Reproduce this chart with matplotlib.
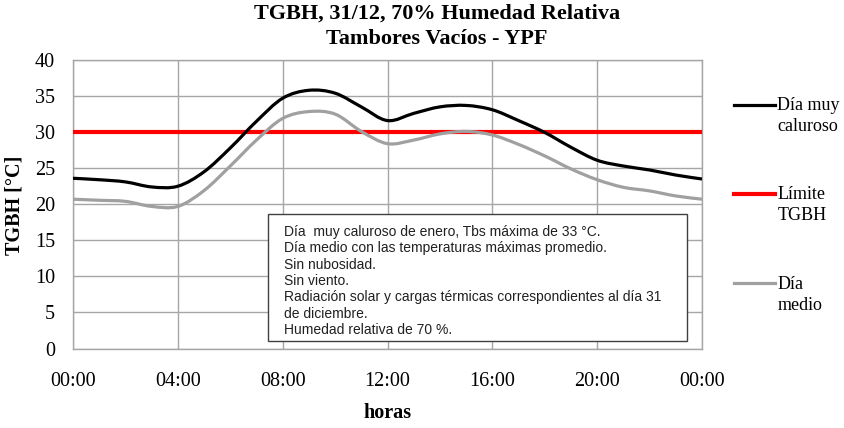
import matplotlib
matplotlib.use("Agg")
import matplotlib.pyplot as plt
from matplotlib.patches import Rectangle, PathPatch
from matplotlib.path import Path
from matplotlib.lines import Line2D
from matplotlib.legend_handler import HandlerLine2D

horas = list(range(25))
tick_horas = [0, 4, 8, 12, 16, 20, 24]
tick_labels = ["00:00", "04:00", "08:00", "12:00", "16:00", "20:00", "00:00"]

dia_muy_caluroso = [23.6, 23.4, 23.1, 22.4, 22.5, 24.5, 27.8, 31.5, 34.7, 35.8,
                    35.4, 33.5, 31.6, 32.6, 33.5, 33.7, 33.1, 31.6, 29.95, 27.9,
                    26.1, 25.3, 24.75, 24.05, 23.5]
dia_medio = [20.7, 20.55, 20.4, 19.7, 19.7, 21.9, 25.3, 28.9, 31.9, 32.85,
             32.5, 30.1, 28.4, 28.9, 29.75, 30.1, 29.6, 28.3, 26.7, 24.9,
             23.4, 22.35, 21.85, 21.15, 20.7]
limite_tgbh = 30

y_ticks = [0, 5, 10, 15, 20, 25, 30, 35, 40]

nota = ("Día  muy caluroso de enero, Tbs máxima de 33 °C.\n"
        "Día medio con las temperaturas máximas promedio.\n"
        "Sin nubosidad.\n"
        "Sin viento.\n"
        "Radiación solar y cargas térmicas correspondientes al día 31\n"
        "de diciembre.\n"
        "Humedad relativa de 70 %.")

serif = "Liberation Serif"
sans = "Liberation Sans"


def smooth_path(xs, ys):
    """Smoothed line through the data points (like a spreadsheet 'smoothed line')."""
    n = len(xs)
    verts = [(xs[0], ys[0])]
    codes = [Path.MOVETO]
    for i in range(n - 1):
        i0 = max(i - 1, 0)
        i3 = min(i + 2, n - 1)
        c1 = (xs[i] + (xs[i + 1] - xs[i0]) / 6.0, ys[i] + (ys[i + 1] - ys[i0]) / 6.0)
        c2 = (xs[i + 1] - (xs[i3] - xs[i]) / 6.0, ys[i + 1] - (ys[i3] - ys[i]) / 6.0)
        verts += [c1, c2, (xs[i + 1], ys[i + 1])]
        codes += [Path.CURVE4] * 3
    return Path(verts, codes)


class TopHandler(HandlerLine2D):
    def __init__(self, shift, **kw):
        super().__init__(**kw)
        self.shift = shift

    def create_artists(self, legend, orig_handle, xdescent, ydescent, width,
                       height, fontsize, trans):
        arts = super().create_artists(legend, orig_handle, xdescent, ydescent,
                                      width, height, fontsize, trans)
        for a in arts:
            a.set_ydata([y + self.shift for y in a.get_ydata()])
        return arts


W, H = 844, 428
fig = plt.figure(figsize=(W / 100, H / 100), dpi=100)
ax = fig.add_axes([73 / W, 1 - 348.5 / H, (702 - 73) / W, (348.5 - 60) / H])

grid_c = "#a6a6a6"
black_c = "black"
gray_c = "#a0a0a0"
red_c = "#ff0000"

ax.add_patch(PathPatch(smooth_path(horas, dia_muy_caluroso), fill=False,
                       edgecolor=black_c, lw=2.3, zorder=4, joinstyle="round"))
ax.axhline(limite_tgbh, color=red_c, lw=3.0, zorder=3)
ax.add_patch(PathPatch(smooth_path(horas, dia_medio), fill=False,
                       edgecolor=gray_c, lw=2.3, zorder=4, joinstyle="round"))

ax.set_xlim(0, 24)
ax.set_ylim(0, 40)
ax.set_xticks(tick_horas)
ax.set_xticklabels(tick_labels)
ax.set_yticks(y_ticks)
ax.grid(True, color=grid_c, lw=1.0)
ax.set_axisbelow(True)
for s in ax.spines.values():
    s.set_color(grid_c)
    s.set_linewidth(1.0)
ax.tick_params(axis="both", length=0, labelsize=14.5)
ax.tick_params(axis="y", pad=13)
ax.tick_params(axis="x", pad=17)
for lab in ax.get_xticklabels() + ax.get_yticklabels():
    lab.set_fontfamily(serif)

# note box
ax.add_patch(Rectangle((7.44, 1.04), 23.43 - 7.44, 18.65 - 1.04, facecolor="white",
                       edgecolor="#404040", lw=1.0, zorder=5))
ax.text(8.05, 17.1, nota, family=sans, fontsize=10.0, va="top", ha="left",
        linespacing=1.21, zorder=6, color="#202020")

fig.text(0.518, 1 - 4 / H, "TGBH, 31/12, 70% Humedad Relativa\nTambores Vacíos - YPF",
         family=serif, weight="bold", fontsize=16, ha="center", va="top", linespacing=1.36)
fig.text(14 / W, 1 - 205 / H, "TGBH [°C]", family=serif, weight="bold", fontsize=14.5,
         rotation=90, ha="center", va="center")
fig.text(387 / W, 1 - 413 / H, "horas", family=serif, weight="bold", fontsize=14.5,
         ha="center", va="center")

h_black = Line2D([], [], color=black_c, lw=2.3)
h_red = Line2D([], [], color=red_c, lw=3.0)
h_gray = Line2D([], [], color=gray_c, lw=2.3)
hmap = {h: TopHandler(8.3) for h in (h_black, h_red, h_gray)}
leg = fig.legend([h_black, h_red, h_gray], ["Día muy\ncaluroso", "Límite\nTGBH", "Día\nmedio"],
                 loc="upper left", bbox_to_anchor=(734 / W, 1 - 97 / H),
                 frameon=False, prop={"family": serif, "size": 13},
                 handlelength=2.25, handletextpad=0.15, labelspacing=2.85,
                 borderpad=0, borderaxespad=0, handler_map=hmap)
for t in leg.get_texts():
    t.set_linespacing(1.3)

fig.savefig("out.png", dpi=100)
